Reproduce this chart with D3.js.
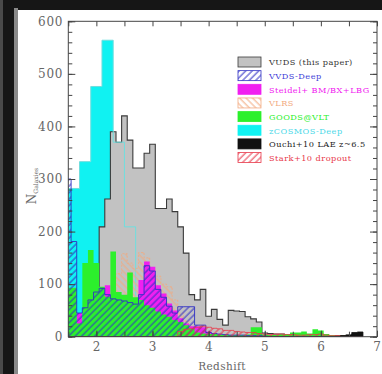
<!DOCTYPE html>
<html>
<head>
<meta charset="utf-8">
<script src="https://cdn.jsdelivr.net/npm/d3@7"></script>
<style>
  body { margin: 0; background: #161616; }
  svg { display: block; }
</style>
</head>
<body>
<svg id="chart" width="382" height="374"></svg>
<script>
// bin lower edges (redshift), width 0.1
const zBins = [1.45, 1.55, 1.65, 1.75, 1.85, 1.95, 2.05, 2.15, 2.25, 2.35, 2.45, 2.55, 2.65, 2.75, 2.85, 2.95,
  3.05, 3.15, 3.25, 3.35, 3.45, 3.55, 3.65, 3.75, 3.85, 3.95, 4.05, 4.15, 4.25, 4.35, 4.45, 4.55, 4.65, 4.75,
  4.85, 4.95, 5.05, 5.15, 5.25, 5.35, 5.45, 5.55, 5.65, 5.75, 5.85, 5.95, 6.05, 6.15, 6.25, 6.35, 6.45, 6.55, 6.65];
const binWidth = 0.1;

const vuds = [0, 0, 0, 0, 0, 0, 209, 262, 390, 370, 420, 374, 321, 321, 349, 366,
  244, 244, 262, 238, 209, 159, 80, 70, 90, 39, 52, 33, 22, 50, 49, 48, 38, 34,
  28, 7, 6, 5, 5, 4, 4, 4, 3, 4, 4, 3, 2, 2, 2, 2, 3, 4, 0];
const vvdsDeep = [300, 181, 45, 55, 70, 85, 92, 80, 72, 70, 68, 65, 62, 80, 135, 125,
  90, 75, 58, 45, 57, 57, 57, 22, 22, 8, 6, 5, 4, 3, 3, 3, 2, 2,
  2, 1, 0, 0, 0, 0, 0, 0, 0, 0, 0, 0, 0, 0, 0, 0, 0, 0, 0];
const steidel = [0, 0, 45, 20, 30, 40, 50, 98, 60, 70, 75, 60, 55, 108, 143, 133,
  98, 82, 63, 50, 35, 25, 20, 20, 18, 10, 6, 4, 3, 2, 2, 0, 0, 0,
  0, 0, 0, 0, 0, 0, 0, 0, 0, 0, 0, 0, 0, 0, 0, 0, 0, 0, 0];
const vlrs = [0, 0, 0, 0, 0, 0, 30, 50, 80, 120, 158, 140, 130, 160, 150, 130,
  115, 100, 95, 70, 45, 30, 20, 15, 10, 8, 6, 4, 3, 2, 0, 0, 0, 0,
  0, 0, 0, 0, 0, 0, 0, 0, 0, 0, 0, 0, 0, 0, 0, 0, 0, 0, 0];
const goods = [93, 93, 25, 140, 165, 140, 95, 76, 162, 85, 80, 122, 75, 70, 60, 55,
  48, 42, 38, 32, 28, 22, 15, 8, 6, 5, 5, 4, 4, 3, 3, 3, 4, 18,
  18, 4, 3, 3, 4, 5, 8, 8, 10, 6, 14, 12, 5, 3, 2, 2, 2, 1, 0];
const stark = [0, 0, 0, 0, 0, 0, 0, 0, 0, 0, 0, 0, 0, 0, 0, 0,
  0, 0, 0, 0, 10, 14, 16, 18, 20, 18, 16, 15, 12, 12, 10, 9, 8, 8,
  6, 5, 4, 5, 5, 4, 4, 3, 3, 4, 4, 5, 3, 2, 2, 1, 1, 0, 0];
const ouchi = [0, 0, 0, 0, 0, 0, 0, 0, 0, 0, 0, 0, 0, 0, 0, 0,
  0, 0, 0, 0, 0, 0, 0, 0, 0, 0, 0, 0, 0, 0, 0, 0, 0, 0,
  0, 0, 0, 0, 0, 0, 0, 0, 0, 0, 0, 0, 0, 0, 0, 2, 3, 8, 9];

// zCOSMOS-Deep uses wider bins
const zcosmosBins = [1.5, 1.7, 1.9, 2.1, 2.3, 2.5, 2.7, 2.9];
const zcosmosWidth = 0.2;
const zcosmos = [282, 333, 476, 564, 370, 209, 40, 12];

const xTicks = [2, 3, 4, 5, 6, 7];
const yTicks = [0, 100, 200, 300, 400, 500, 600];

const legendNames = ["VUDS (this paper)", "VVDS-Deep", "Steidel+ BM/BX+LBG", "VLRS",
  "GOODS@VLT", "zCOSMOS-Deep", "Ouchi+10 LAE z~6.5", "Stark+10 dropout"];

const colors = {
  vuds: '#c2c2c2',
  vudsLine: '#3a3a3a',
  vvds: '#3030c4',
  steidel: '#f020f0',
  vlrs: '#f2aa80',
  goods: '#2cf02c',
  zcosmos: '#10f2f2',
  ouchi: '#111111',
  stark: '#e8384a',
  text: '#666666'
};
const serif = '"DejaVu Serif", "Liberation Serif", serif';

const svg = d3.select('#chart');
const W = 382, H = 374;
const plot = { left: 68.3, right: 377, top: 21.3, bottom: 336.7 };

// photo-like dark border
svg.append('rect').attr('width', W).attr('height', H).attr('fill', '#161616');
svg.append('rect').attr('x', 0).attr('width', 3).attr('height', H).attr('fill', '#4a4a4a');
svg.append('rect').attr('x', 14).attr('y', 8).attr('width', 4).attr('height', H).attr('fill', '#8a8a8a');
svg.append('rect').attr('x', 18).attr('y', 10).attr('width', W - 18).attr('height', H - 10).attr('fill', '#ffffff');

const x = d3.scaleLinear().domain([1.5, 7]).range([plot.left, plot.right]);
const y = d3.scaleLinear().domain([0, 600]).range([plot.bottom, plot.top]);

const defs = svg.append('defs');
function hatch(id, color, angle) {
  const p = defs.append('pattern').attr('id', id)
    .attr('patternUnits', 'userSpaceOnUse')
    .attr('width', 4.6).attr('height', 4.6)
    .attr('patternTransform', `rotate(${angle})`);
  p.append('line').attr('x1', 1).attr('x2', 1).attr('y1', 0).attr('y2', 4.6)
    .attr('stroke', color).attr('stroke-width', 1);
}
hatch('h-vvds', colors.vvds, 45);
hatch('h-stark', colors.stark, 45);
hatch('h-vlrs', colors.vlrs, -45);

defs.append('clipPath').attr('id', 'clip').append('rect')
  .attr('x', plot.left).attr('y', plot.top)
  .attr('width', plot.right - plot.left).attr('height', plot.bottom - plot.top);

function stepPoints(bins, width, vals) {
  const pts = [[bins[0], 0]];
  vals.forEach((v, i) => { pts.push([bins[i], v]); pts.push([bins[i] + width, v]); });
  pts.push([bins[bins.length - 1] + width, 0]);
  return pts;
}
const area = d3.area().x(d => x(d[0])).y0(y(0)).y1(d => y(d[1]));
const line = d3.line().x(d => x(d[0])).y(d => y(d[1]));

const g = svg.append('g').attr('clip-path', 'url(#clip)');

function hist(bins, width, vals, fill, stroke, sw, dash) {
  const pts = stepPoints(bins, width, vals);
  if (fill) g.append('path').datum(pts).attr('d', area).attr('fill', fill);
  if (stroke) g.append('path').datum(pts).attr('d', line).attr('fill', 'none')
    .attr('stroke', stroke).attr('stroke-width', sw).attr('stroke-dasharray', dash || null);
}

hist(zcosmosBins, zcosmosWidth, zcosmos, colors.zcosmos, null);
hist(zBins, binWidth, vuds, colors.vuds, colors.vudsLine, 1.1);
hist(zcosmosBins, zcosmosWidth, zcosmos, null, '#6fdede', 1);
hist(zBins, binWidth, vlrs, 'url(#h-vlrs)', colors.vlrs, 0.8, '2,1.5');
hist(zBins, binWidth, steidel, colors.steidel, null);
hist(zBins, binWidth, goods, colors.goods, null);
hist(zBins, binWidth, vvdsDeep, 'url(#h-vvds)', colors.vvds, 0.9);
hist(zBins, binWidth, stark, 'url(#h-stark)', colors.stark, 0.8);
hist(zBins, binWidth, ouchi, colors.ouchi, colors.ouchi, 0.8);

// axes with inward ticks
const yMinor = d3.range(0, 601, 20);
const xMinor = d3.range(1.5, 7.01, 0.5);
function styleAxis(sel) {
  sel.select('.domain').remove();
  sel.selectAll('line').attr('stroke', '#444');
  sel.selectAll('text').attr('fill', colors.text)
    .style('font-family', serif).style('font-size', '12px').style('letter-spacing', '0.8px');
}
svg.append('g').attr('transform', `translate(${plot.left},0)`)
  .call(d3.axisLeft(y).tickValues(yMinor).tickSize(-4).tickFormat('')).call(styleAxis);
svg.append('g').attr('transform', `translate(${plot.left},0)`)
  .call(d3.axisLeft(y).tickValues(yTicks).tickSize(-7).tickPadding(5)).call(styleAxis);
svg.append('g').attr('transform', `translate(${plot.right},0)`)
  .call(d3.axisRight(y).tickValues(yMinor).tickSize(-4).tickFormat('')).call(styleAxis);
svg.append('g').attr('transform', `translate(${plot.right},0)`)
  .call(d3.axisRight(y).tickValues(yTicks).tickSize(-7).tickFormat('')).call(styleAxis);
svg.append('g').attr('transform', `translate(0,${plot.bottom})`)
  .call(d3.axisBottom(x).tickValues(xMinor).tickSize(-5).tickFormat('')).call(styleAxis);
svg.append('g').attr('transform', `translate(0,${plot.bottom})`)
  .call(d3.axisBottom(x).tickValues(xTicks).tickSize(-6).tickPadding(6).tickFormat(d3.format('d'))).call(styleAxis);
svg.append('g').attr('transform', `translate(0,${plot.top})`)
  .call(d3.axisTop(x).tickValues(xMinor).tickSize(-5).tickFormat('')).call(styleAxis);

svg.append('rect')
  .attr('x', plot.left).attr('y', plot.top)
  .attr('width', plot.right - plot.left).attr('height', plot.bottom - plot.top)
  .attr('fill', 'none').attr('stroke', '#444').attr('stroke-width', 1);

// axis titles
svg.append('text').attr('x', 222).attr('y', 370).attr('text-anchor', 'middle')
  .attr('fill', colors.text).style('font-family', serif).style('font-size', '10.5px')
  .style('letter-spacing', '0.4px').text('Redshift');
const yl = svg.append('text').attr('transform', 'translate(36,186) rotate(-90)').attr('text-anchor', 'middle')
  .attr('fill', colors.text).style('font-family', serif).style('font-size', '12px');
yl.append('tspan').text('N');
yl.append('tspan').attr('dy', 2).style('font-size', '6px').text('Galaxies');

// legend
const swatches = [
  { fill: colors.vuds, stroke: colors.vudsLine, text: '#333333' },
  { fill: 'url(#h-vvds)', stroke: colors.vvds, text: '#4040d8' },
  { fill: colors.steidel, stroke: colors.steidel, text: colors.steidel },
  { fill: 'url(#h-vlrs)', stroke: colors.vlrs, text: colors.vlrs },
  { fill: colors.goods, stroke: colors.goods, text: colors.goods },
  { fill: colors.zcosmos, stroke: colors.zcosmos, text: '#4ad8e8' },
  { fill: colors.ouchi, stroke: colors.ouchi, text: '#222222' },
  { fill: 'url(#h-stark)', stroke: colors.stark, text: colors.stark }
];
const leg = svg.append('g').attr('transform', 'translate(238,57)');
legendNames.forEach((name, i) => {
  const row = leg.append('g').attr('transform', `translate(0,${i * 13.65})`);
  row.append('rect').attr('width', 23).attr('height', 10)
    .attr('fill', swatches[i].fill).attr('stroke', swatches[i].stroke).attr('stroke-width', 0.8);
  row.append('text').attr('x', 31).attr('y', 8.3)
    .attr('fill', swatches[i].text)
    .style('font-family', serif).style('font-size', '8.2px').style('letter-spacing', '0.45px')
    .text(name);
});
</script>
</body>
</html>
